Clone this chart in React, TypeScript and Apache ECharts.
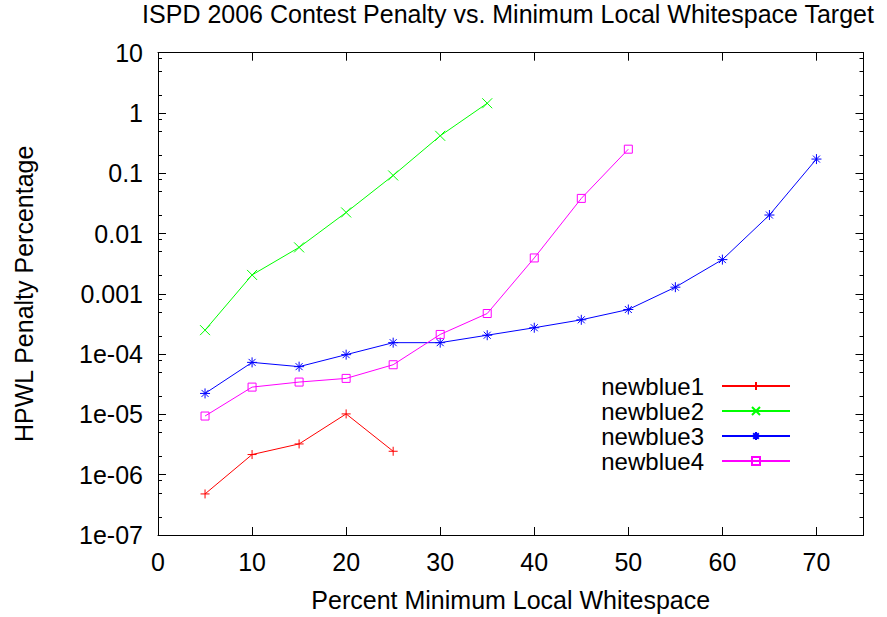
import React, { useEffect, useRef } from "react";
import * as echarts from "echarts";

const FONT = "'Liberation Sans', Arial, Helvetica, sans-serif";

const titleText = "ISPD 2006 Contest Penalty vs. Minimum Local Whitespace Target";
const xAxisName = "Percent Minimum Local Whitespace";
const yAxisName = "HPWL Penalty Percentage";

const seriesNames = ["newblue1", "newblue2", "newblue3", "newblue4"];
const seriesColors = ["#ff0000", "#00ff00", "#0000ff", "#ff00ff"];

const xNewblue1 = [5, 10, 15, 20, 25];
const yNewblue1 = [4.8e-7, 2.16e-6, 3.24e-6, 1.02e-5, 2.45e-6];

const xNewblue2 = [5, 10, 15, 20, 25, 30, 35];
const yNewblue2 = [2.5e-4, 2.06e-3, 5.9e-3, 0.0224, 0.092, 0.418, 1.45];

const xNewblue3 = [5, 10, 15, 20, 25, 30, 35, 40, 45, 50, 55, 60, 65, 70];
const yNewblue3 = [
  2.23e-5, 7.3e-5, 6.2e-5, 9.8e-5, 1.55e-4, 1.55e-4, 2.06e-4, 2.74e-4, 3.71e-4,
  5.5e-4, 1.29e-3, 3.7e-3, 0.0203, 0.172,
];

const xNewblue4 = [5, 10, 15, 20, 25, 30, 35, 40, 45, 50];
const yNewblue4 = [
  9.4e-6, 2.84e-5, 3.44e-5, 3.96e-5, 6.67e-5, 2.12e-4, 4.72e-4, 3.94e-3, 0.0383, 0.251,
];

const xTickLabels = ["0", "10", "20", "30", "40", "50", "60", "70"];
const yTickLabels = ["1e-07", "1e-06", "1e-05", "1e-04", "0.001", "0.01", "0.1", "1", "10"];
const yMinorMultipliers = [2, 5, 8];
const yDecadeExponents = [-7, -6, -5, -4, -3, -2, -1, 0];

const X_MIN = 0;
const X_MAX = 75;
const X_INTERVAL = 10;
const Y_MIN = 1e-7;
const Y_MAX = 10;

const symPlus = "path://M5,0L5,10M0,5L10,5";
const symCross = "path://M0,0L10,10M10,0L0,10";
const symStar = "path://M5,0L5,10M0,5L10,5M1.5,1.5L8.5,8.5M8.5,1.5L1.5,8.5";
const symSquare = "path://M0,0L10,0L10,10L0,10Z";

export default function App() {
  const ref = useRef<HTMLDivElement>(null);

  useEffect(() => {
    if (!ref.current) return;
    const chart = echarts.init(ref.current, null, { renderer: "svg" });

    const zip = (xs: number[], ys: number[]) => xs.map((x, i) => [x, ys[i]]);
    const datasets = [
      zip(xNewblue1, yNewblue1),
      zip(xNewblue2, yNewblue2),
      zip(xNewblue3, yNewblue3),
      zip(xNewblue4, yNewblue4),
    ];
    const symbols = [symPlus, symCross, symStar, symSquare];
    const symbolSizes = [9, 10, 10, 8];

    const minorVals: number[] = [];
    yDecadeExponents.forEach((e) =>
      yMinorMultipliers.forEach((m) => minorVals.push(m * Math.pow(10, e)))
    );

    const yLabelFmt = (v: number) => {
      const idx = Math.round(Math.log10(v)) + 7;
      return yTickLabels[idx] ?? "";
    };
    const xLabelFmt = (v: number) => {
      const s = String(v);
      return xTickLabels.indexOf(s) >= 0 ? s : "";
    };

    const textBase = { color: "#000", fontFamily: FONT, fontSize: 25 };
    const black = { color: "#000", width: 1 };

    const baseY = {
      type: "log",
      logBase: 10,
      min: Y_MIN,
      max: Y_MAX,
      splitNumber: 8,
      splitLine: { show: false },
    };
    const baseX = {
      type: "value",
      min: X_MIN,
      max: X_MAX,
      interval: X_INTERVAL,
      splitLine: { show: false },
    };

    chart.setOption({
      animation: false,
      backgroundColor: "#fff",
      title: {
        text: titleText,
        left: 508,
        top: 1,
        textAlign: "center",
        padding: 0,
        textStyle: { ...textBase, fontWeight: "normal" },
      },
      grid: { left: 158, right: 23.5, top: 52.7, bottom: 81, containLabel: false },
      legend: {
        orient: "vertical",
        right: 96,
        top: 374,
        align: "right",
        padding: 0,
        itemWidth: 68,
        itemHeight: 10,
        itemGap: 1,
        selectedMode: false,
        data: seriesNames,
        textStyle: {
          color: "#000",
          fontFamily: FONT,
          fontSize: 24,
          lineHeight: 24,
          padding: [0, 13, 0, 0],
        },
      },
      xAxis: [
        {
          ...baseX,
          position: "bottom",
          name: xAxisName,
          nameLocation: "middle",
          nameGap: 52,
          nameTextStyle: textBase,
          axisLine: { show: true, lineStyle: black },
          axisTick: { show: true, inside: true, length: 8, lineStyle: black },
          axisLabel: { ...textBase, margin: 14, formatter: xLabelFmt },
        },
        {
          ...baseX,
          position: "top",
          axisLine: { show: true, lineStyle: black },
          axisTick: { show: true, inside: true, length: 8, lineStyle: black },
          axisLabel: { show: false },
        },
      ],
      yAxis: [
        {
          ...baseY,
          position: "left",
          name: yAxisName,
          nameLocation: "middle",
          nameGap: 122,
          nameTextStyle: textBase,
          axisLine: { show: true, lineStyle: black },
          axisTick: { show: true, inside: true, length: 8, lineStyle: black },
          axisLabel: { ...textBase, margin: 15, formatter: yLabelFmt },
        },
        {
          ...baseY,
          position: "left",
          axisLine: { show: false },
          axisTick: { show: true, inside: true, length: 4, lineStyle: black, customValues: minorVals },
          axisLabel: { show: false },
        },
        {
          ...baseY,
          position: "right",
          axisLine: { show: true, lineStyle: black },
          axisTick: { show: true, inside: true, length: 8, lineStyle: black },
          axisLabel: { show: false },
        },
        {
          ...baseY,
          position: "right",
          axisLine: { show: false },
          axisTick: { show: true, inside: true, length: 4, lineStyle: black, customValues: minorVals },
          axisLabel: { show: false },
        },
      ],
      series: seriesNames.map((name, i) => ({
        name,
        type: "line",
        xAxisIndex: 0,
        yAxisIndex: 0,
        data: datasets[i],
        symbol: symbols[i],
        symbolSize: symbolSizes[i],
        showAllSymbol: true,
        lineStyle: { color: seriesColors[i], width: 1 },
        itemStyle: { color: "none", borderColor: seriesColors[i], borderWidth: 1 },
        emphasis: { disabled: true },
        z: 3 + i,
      })),
    });

    return () => chart.dispose();
  }, []);

  return (
    <div
      ref={ref}
      style={{ position: "fixed", left: 0, top: 0, width: 887, height: 617, background: "#fff" }}
    />
  );
}
